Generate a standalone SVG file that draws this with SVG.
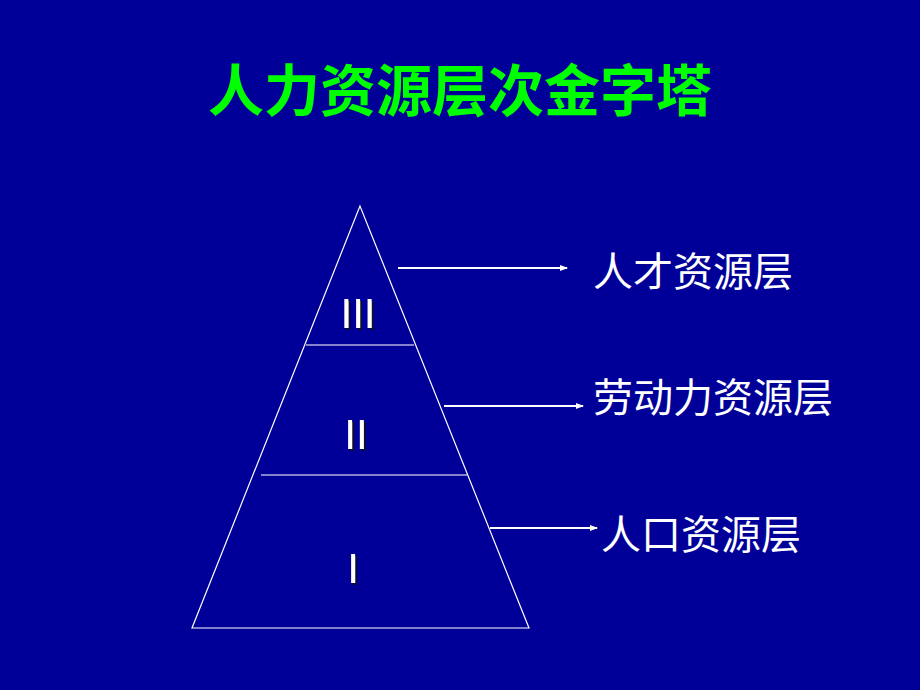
<svg xmlns="http://www.w3.org/2000/svg" width="920" height="690" viewBox="0 0 920 690">
<defs>
<marker id="ah" markerWidth="8" markerHeight="8" refX="7" refY="4" orient="auto" markerUnits="userSpaceOnUse">
<path d="M0,1 L8,4 L0,7 Z" fill="#ffffff"/>
</marker>
<filter id="sh" x="-20%" y="-20%" width="150%" height="150%">
<feDropShadow dx="2" dy="2" stdDeviation="0.6" flood-color="#101030" flood-opacity="1"/>
</filter>
<style>
.title{font-family:"Liberation Sans","Noto Sans CJK SC",sans-serif;font-size:56px;font-weight:bold;fill:#00ff00}
.lbl{font-family:"Noto Sans CJK SC",sans-serif;font-size:40px;fill:#ffffff}
.rom{font-family:"Liberation Sans",sans-serif;font-size:42px;fill:#ffffff;text-anchor:middle;filter:url(#sh)}
.edge{stroke:#ffffff;stroke-width:1.2;fill:none}
.div{stroke:#b0b0e0;stroke-width:1.5;fill:none}
.conn{stroke:#ffffff;stroke-width:2;fill:none;marker-end:url(#ah)}
</style>
</defs>
<rect width="920" height="690" fill="#000099"/>
<text class="title" x="460" y="111" text-anchor="middle">人力资源层次金字塔</text>
<g id="pyramid">
<polygon class="edge" points="360,206 192,628 529,628"/>
<line class="div" x1="306" y1="345" x2="414" y2="345"/>
<line class="div" x1="261" y1="475" x2="467" y2="475"/>
</g>
<g id="layer3"><text class="rom" x="358" y="328">III</text></g>
<g id="layer2"><text class="rom" x="356" y="449">II</text></g>
<g id="layer1"><text class="rom" x="353" y="583">I</text></g>
<g id="connectors">
<line class="conn" x1="398" y1="268" x2="567" y2="268"/>
<line class="conn" x1="444" y1="406" x2="583" y2="406"/>
<line class="conn" x1="490" y1="528" x2="597" y2="528"/>
</g>
<g id="talent"><text class="lbl" x="593" y="286">人才资源层</text></g>
<g id="labor"><text class="lbl" x="593" y="412">劳动力资源层</text></g>
<g id="population"><text class="lbl" x="601" y="549">人口资源层</text></g>
</svg>
